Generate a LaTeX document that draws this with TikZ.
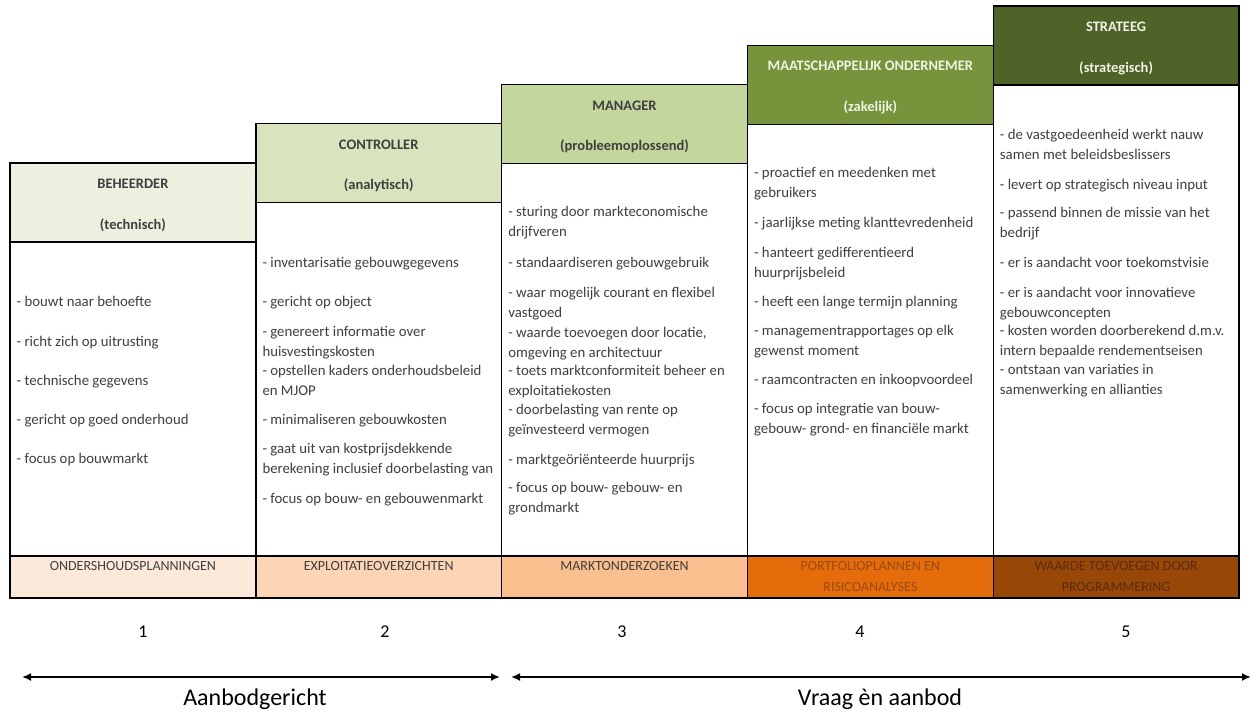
\documentclass[tikz,border=0pt]{standalone}
\usepackage{fontspec}
\setmainfont{Carlito}
\usetikzlibrary{arrows.meta}
\definecolor{hdrpale}{HTML}{EBF1DE}
\definecolor{hdrlight}{HTML}{D7E4BD}
\definecolor{hdrmid}{HTML}{C3D69B}
\definecolor{hdrolive}{HTML}{77933C}
\definecolor{hdrdark}{HTML}{4F6228}
\definecolor{barpale}{HTML}{FDE9D9}
\definecolor{barlight}{HTML}{FCD5B4}
\definecolor{barmid}{HTML}{FABF8F}
\definecolor{barorange}{HTML}{E46C0A}
\definecolor{barbrown}{HTML}{974806}
\definecolor{inkgray}{HTML}{3F3F3F}
\definecolor{inklight}{HTML}{EEF3E4}
\definecolor{barink}{HTML}{9A4A0A}
\definecolor{barinkdark}{HTML}{5C2A03}

\begin{document}
\begin{tikzpicture}[x=1pt,y=-1pt,
  every node/.style={inner sep=0pt},
  cell/.style={draw=black,line width=1.4pt},
  item/.style={anchor=base west,align=left,text=inkgray,
    font=\fontsize{14.8}{19.5}\selectfont,
    execute at begin node=\hspace*{4pt}},
  role/.style={anchor=base,font=\fontsize{14.5}{16}\selectfont\bfseries},
  barlabel/.style={anchor=base,align=center,font=\fontsize{14}{21}\selectfont},
  numlabel/.style={anchor=base,font=\fontsize{18}{20}\selectfont},
  sidelabel/.style={anchor=base,font=\fontsize{24}{26}\selectfont},
  rangearrow/.style={line width=2.8pt,{Latex[length=9pt,width=8pt]}-{Latex[length=9pt,width=8pt]}}]
  \useasboundingbox (0,0) rectangle (1257,712);

  % the five columns: header, body and output bar
  % (multi-line texts sit on the baseline of their last line)
  \foreach \i/\xl/\yt/\hc/\hk/\bc/\bk/\oy/\nm/\kd/\ol in {
    1/10/163/hdrpale/inkgray/barpale/inkgray/570.5/BEHEERDER/technisch/ONDERSHOUDSPLANNINGEN,
    2/255.8/123.75/hdrlight/inkgray/barlight/inkgray/570.5/CONTROLLER/analytisch/EXPLOITATIEOVERZICHTEN,
    3/501.6/84.5/hdrmid/inkgray/barmid/inkgray/570.5/MANAGER/probleemoplossend/MARKTONDERZOEKEN,
    4/747.4/45.25/hdrolive/inklight/barorange/barink/591.5/MAATSCHAPPELIJK ONDERNEMER/zakelijk/{PORTFOLIOPLANNEN EN\\RISICOANALYSES},
    5/993.2/6/hdrdark/inklight/barbrown/barinkdark/591.5/STRATEEG/strategisch/{WAARDE TOEVOEGEN DOOR\\PROGRAMMERING}}{
    \pgfmathsetmacro{\xr}{\xl+245.8}
    \pgfmathsetmacro{\xm}{\xl+122.9}
    \pgfmathsetmacro{\yb}{\yt+79}
    \draw[cell,fill=white] (\xl,\yb) rectangle (\xr,556);
    \draw[cell,fill=\hc] (\xl,\yt) rectangle (\xr,\yb);
    \draw[cell,fill=\bc] (\xl,556) rectangle (\xr,598);
    \node[role,text=\hk] (role\i) at (\xm,\yt+25.5) {\nm};
    \node[role,text=\hk] (kind\i) at (\xm,\yt+66) {(\kd)};
    \node[barlabel,text=\bk] (out\i) at (\xm,\oy) {\ol};
  }

  % column texts
  \foreach \y/\t [count=\n] in {306/{- bouwt naar behoefte},
      346/{- richt zich op uitrusting}, 385/{- technische gegevens},
      424/{- gericht op goed onderhoud}, 463/{- focus op bouwmarkt}}
    \node[item] (beh\n) at (12.5,\y) {\t};
  \foreach \y/\t [count=\n] in {267/{- inventarisatie gebouwgegevens},
      306/{- gericht op object},
      356/{- genereert informatie over\\huisvestingskosten},
      395/{- opstellen kaders onderhoudsbeleid\\en MJOP},
      424/{- minimaliseren gebouwkosten},
      473/{- gaat uit van kostprijsdekkende\\berekening inclusief doorbelasting van},
      503/{- focus op bouw- en gebouwenmarkt}}
    \node[item] (con\n) at (258.3,\y) {\t};
  \foreach \y/\t [count=\n] in {236/{- sturing door markteconomische\\drijfveren},
      267/{- standaardiseren gebouwgebruik},
      317/{- waar mogelijk courant en flexibel\\vastgoed},
      357/{- waarde toevoegen door locatie,\\omgeving en architectuur},
      395/{- toets marktconformiteit beheer en\\exploitatiekosten},
      434/{- doorbelasting van rente op\\geïnvesteerd vermogen},
      464/{- marktgeöriënteerde huurprijs},
      512/{- focus op bouw- gebouw- en\\grondmarkt}}
    \node[item] (man\n) at (504.1,\y) {\t};
  \foreach \y/\t [count=\n] in {197/{- proactief en meedenken met\\gebruikers},
      227/{- jaarlijkse meting klanttevredenheid},
      277/{- hanteert gedifferentieerd\\huurprijsbeleid},
      306/{- heeft een lange termijn planning},
      355/{- managementrapportages op elk\\gewenst moment},
      384/{- raamcontracten en inkoopvoordeel},
      433/{- focus op integratie van bouw-\\gebouw- grond- en financiële markt}}
    \node[item] (ond\n) at (749.9,\y) {\t};
  \foreach \y/\t [count=\n] in {159/{- de vastgoedeenheid werkt nauw\\samen met beleidsbeslissers},
      189/{- levert op strategisch niveau input},
      237/{- passend binnen de missie van het\\bedrijf},
      267/{- er is aandacht voor toekomstvisie},
      317/{- er is aandacht voor innovatieve\\gebouwconcepten},
      355/{- kosten worden doorberekend d.m.v.\\intern bepaalde rendementseisen},
      394/{- ontstaan van variaties in\\samenwerking en allianties}}
    \node[item] (str\n) at (995.7,\y) {\t};

  % levels
  \foreach \x/\lab in {143/1,385/2,622/3,860/4,1126/5}
    \node[numlabel] (lvl\lab) at (\x,637) {\lab};

  % ranges
  \coordinate (supL) at (22,677);
  \coordinate (supR) at (500,677);
  \coordinate (demL) at (511,677);
  \coordinate (demR) at (1251,677);
  \draw[rangearrow] (supL) -- (supR);
  \draw[rangearrow] (demL) -- (demR);
  \node[sidelabel] (supply) at (255,705) {Aanbodgericht};
  \node[sidelabel] (demand) at (880,705) {Vraag èn aanbod};
\end{tikzpicture}
\end{document}
